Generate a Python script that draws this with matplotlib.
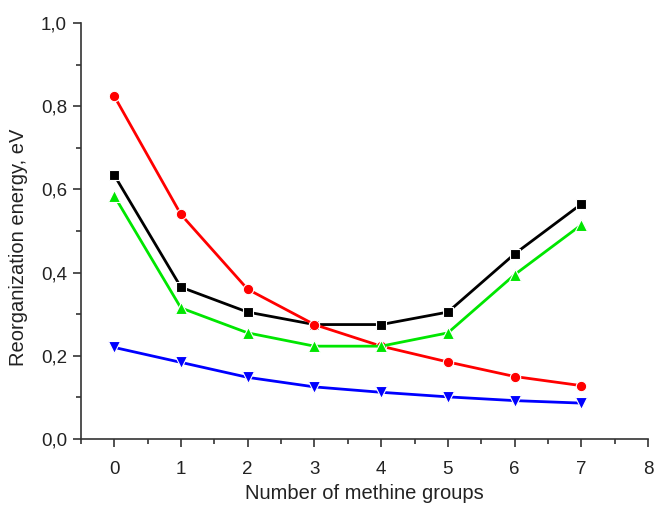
import matplotlib
matplotlib.use("Agg")
import matplotlib.pyplot as plt
from matplotlib.ticker import FuncFormatter, MultipleLocator


methine_groups = [0, 1, 2, 3, 4, 5, 6, 7]
black_series = [0.635, 0.365, 0.305, 0.275, 0.275, 0.305, 0.445, 0.565]
red_series = [0.825, 0.54, 0.36, 0.275, 0.223, 0.185, 0.15, 0.128]
green_series = [0.585, 0.315, 0.255, 0.223, 0.223, 0.255, 0.395, 0.515]
blue_series = [0.22, 0.184, 0.148, 0.125, 0.112, 0.101, 0.092, 0.086]

plt.rcParams["font.family"] = ["Liberation Sans", "DejaVu Sans"]


def comma_fmt(value, _pos):
    return f"{value:.1f}".replace(".", ",")


def main() -> None:
    fig = plt.figure(figsize=(6.54, 5.05), dpi=100)
    ax = fig.add_axes((0.1235, 0.131, 0.8675, 0.823))

    series_specs = [
        (black_series, "#000000", "s", 6.5),
        (red_series, "#ff0000", "o", 7.5),
        (green_series, "#00e600", "^", 8),
        (blue_series, "#0000ff", "v", 8),
    ]
    for values, color, marker, size in series_specs:
        ax.plot(
            methine_groups, values, color=color, linewidth=2,
            marker=marker, markersize=size, markerfacecolor=color,
            markeredgecolor="white", markeredgewidth=0.8,
        )

    ax.set_xlim(-0.5, 8)
    ax.set_ylim(0, 1.0)
    ax.xaxis.set_major_locator(MultipleLocator(1))
    ax.xaxis.set_minor_locator(MultipleLocator(0.5))
    ax.yaxis.set_major_locator(MultipleLocator(0.2))
    ax.yaxis.set_minor_locator(MultipleLocator(0.1))
    ax.yaxis.set_major_formatter(FuncFormatter(comma_fmt))

    for side in ("top", "right"):
        ax.spines[side].set_visible(False)
    for side in ("left", "bottom"):
        ax.spines[side].set_color("#333333")
        ax.spines[side].set_linewidth(1.2)

    ax.tick_params(which="major", direction="out", length=6, width=1.2,
                   color="#333333", labelsize=13.5, labelcolor="#222222")
    ax.tick_params(which="minor", direction="out", length=3.5, width=1.2,
                   color="#333333")
    ax.tick_params(axis="x", pad=10)
    ax.tick_params(axis="y", pad=4)

    ax.set_xlabel("Number of methine groups", fontsize=14.5, color="#222222", labelpad=4)
    ax.set_ylabel("Reorganization energy, eV", fontsize=14.5, color="#222222")
    ax.yaxis.set_label_coords(-0.093, 0.46)

    fig.savefig("out.png", dpi=100)


if __name__ == "__main__":
    main()
